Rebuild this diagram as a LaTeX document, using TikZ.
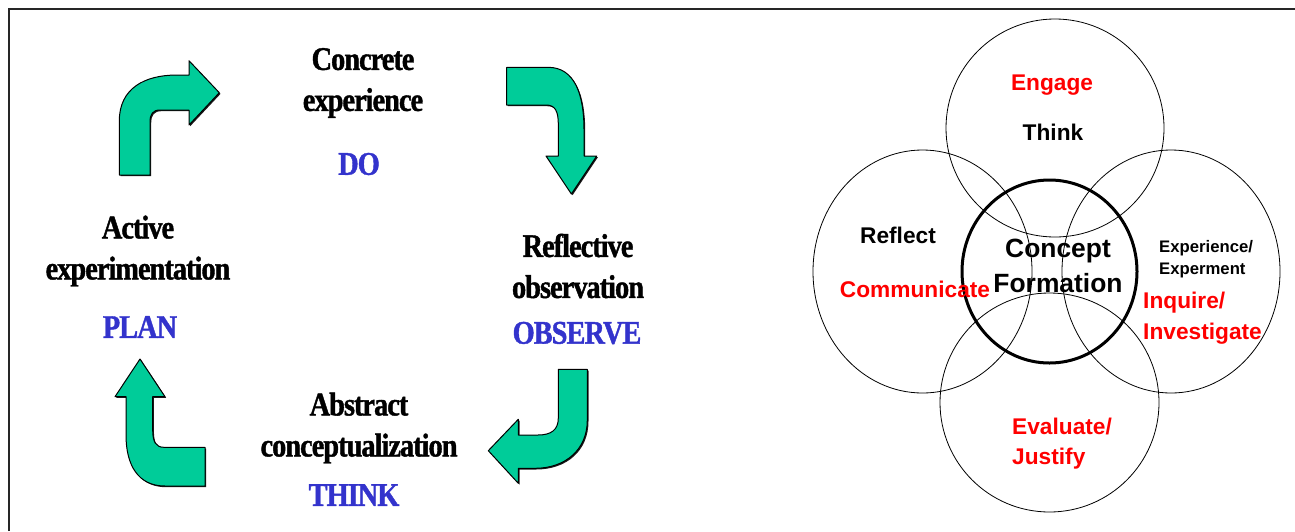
\documentclass[tikz,border=0pt]{standalone}
\usepackage{fontspec}
\setmainfont{Liberation Sans}
\newfontfamily\kolbfont[FakeStretch=0.86, LetterSpace=-3, FakeBold=1.2]{Liberation Serif}
\usepackage{tikz}
\usetikzlibrary{shadows}
\definecolor{kolbgreen}{HTML}{00CC99}
\definecolor{kolbblue}{HTML}{3333CC}
\definecolor{venred}{HTML}{FF0000}

\begin{document}
\begin{tikzpicture}[x=1pt, y=-1pt,
            stage/.style={font=\kolbfont\bfseries\fontsize{33}{41}\selectfont, align=center, inner sep=0pt},
            mode/.style={font=\kolbfont\bfseries\fontsize{33}{40}\selectfont, text=kolbblue, inner sep=0pt},
            bent/.style={fill=kolbgreen, draw=black, line width=1pt, line join=round,
                drop shadow={shadow xshift=1.2pt, shadow yshift=-1.2pt, fill=black, opacity=0.9}},
            ring/.style={draw=black, line width=0.8pt},
            word/.style={font=\bfseries\fontsize{22.7}{31}\selectfont, inner sep=0pt, align=left}]
            \useasboundingbox (0,0) rectangle (1295,531);
            \draw[line width=1.6pt, black!85] (9,531) -- (9,9) -- (1295,9);

            \draw[bent] (119.3,175) -- (119.3,121) .. controls (119.3,88) and (145,75) .. (177,75)
                -- (189,75) -- (189,60.7) -- (219.3,92.7) -- (189,125) -- (189,110) -- (160,110)
                .. controls (153,110) and (150,114) .. (150,122) -- (150,175) -- cycle;
            \draw[bent] (506.7,67.3) -- (548,67.3) .. controls (575,67.3) and (584,95) .. (584,130)
                -- (584,156) -- (596.7,156) -- (571.4,194) -- (546,156) -- (558.3,156) -- (558.3,124)
                .. controls (558.3,111) and (555,105) .. (546,105) -- (506.7,105) -- cycle;
            \draw[bent] (587.3,369.3) -- (587.3,420) .. controls (587.3,450) and (565,468.3) .. (535,468.3)
                -- (518.3,468.3) -- (518.3,483.3) -- (488.3,450.7) -- (518.3,419.3) -- (518.3,435)
                -- (538,435) .. controls (551,435) and (558.3,430) .. (558.3,418) -- (558.3,369.3) -- cycle;
            \draw[bent] (205,486) -- (165,486) .. controls (138,486) and (126,465) .. (126,435)
                -- (126,396.7) -- (115,396.7) -- (140,359) -- (165,396.7) -- (152.7,396.7) -- (152.7,430)
                .. controls (152.7,442) and (156,447.3) .. (164,447.3) -- (205,447.3) -- cycle;

            \node[stage] (concrete) at (363,83) {Concrete\\experience};
            \node[mode] (do) at (359,164) {DO};
            \node[stage] (reflective) at (578,266) {Reflective\\observation};
            \node[mode] (observe) at (577,333) {OBSERVE};
            \node[stage] (abstract) at (359,428) {Abstract\\conceptualization};
            \node[mode] (think) at (354,495) {THINK};
            \node[stage] (active) at (138,251) {Active\\experimentation};
            \node[mode] (plan) at (140,327) {PLAN};

            \coordinate (T) at (1055,128);
            \coordinate (L) at (922.5,271.5);
            \coordinate (R) at (1171,271.5);
            \coordinate (B) at (1049.5,402.5);
            \coordinate (C) at (1049.5,271.5);
            \draw[ring] (T) ellipse [x radius=109pt, y radius=109pt];
            \draw[ring] (L) ellipse [x radius=109.5pt, y radius=121.5pt];
            \draw[ring] (R) ellipse [x radius=109pt, y radius=121.5pt];
            \draw[ring] (B) ellipse [x radius=109.5pt, y radius=109.5pt];
            \draw[line width=3pt] (C) ellipse [x radius=87.5pt, y radius=91.5pt];

            \node[word, text=venred] (engage) at (1052,85) {Engage};
            \node[word] (thinkword) at (1053,132.5) {Think};
            \node[word] (reflect) at (898,235.5) {Reflect};
            \node[word, text=venred] (communicate) at (915,289) {Communicate};
            \node[word, align=center, font=\bfseries\fontsize{26.4}{35}\selectfont] (concept) at (1058,266) {Concept\\Formation};
            \node[word, anchor=west, font=\bfseries\fontsize{16.7}{21.7}\selectfont] (experience) at (1159,259) {Experience/\\Experment};
            \node[word, anchor=west, text=venred] (inquire) at (1143,318.3) {Inquire/\\Investigate};
            \node[word, anchor=west, text=venred, font=\bfseries\fontsize{22.7}{30}\selectfont] (evaluate) at (1012,444) {Evaluate/\\Justify};
\end{tikzpicture}
\end{document}
